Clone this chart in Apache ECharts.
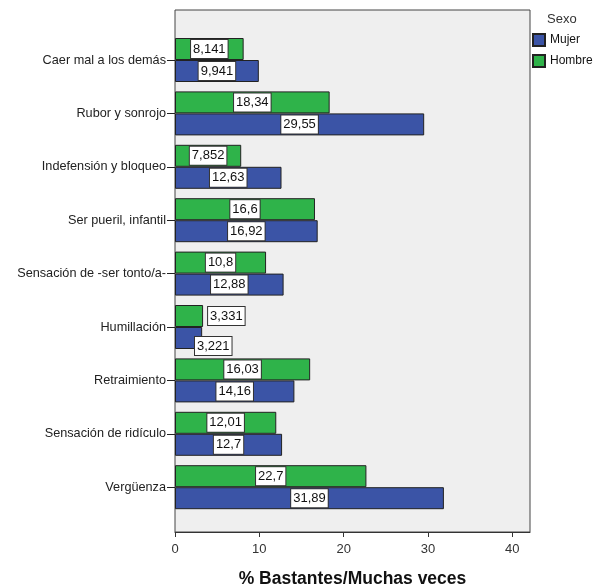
<!DOCTYPE html>
<html><head><meta charset="utf-8">
<script src="https://cdn.jsdelivr.net/npm/echarts@6/dist/echarts.min.js"></script>
<style>html,body{margin:0;padding:0;background:#fff}#c{width:593px;height:586px}</style>
</head><body><div id="c"></div>
<script>
const categories = ['Caer mal a los demás','Rubor y sonrojo','Indefensión y bloqueo','Ser pueril, infantil','Sensación de -ser tonto/a-','Humillación','Retraimiento','Sensación de ridículo','Vergüenza'];
const mujer = [9.941, 29.55, 12.63, 16.92, 12.88, 3.221, 14.16, 12.7, 31.89];
const hombre = [8.141, 18.34, 7.852, 16.6, 10.8, 3.331, 16.03, 12.01, 22.7];
const xTicks = [0, 10, 20, 30, 40];

const FONT = '"Liberation Sans", Arial, sans-serif';
const XMAX = 42.1;
const fmt = p => String(p.value).replace('.', ',');
const baseLabel = {
  show: true, position: 'inside', formatter: fmt,
  backgroundColor: '#fff', borderColor: '#333', borderWidth: 1,
  padding: [3, 2, 2, 2], fontSize: 13, color: '#111', fontFamily: FONT
};
const HUMI = categories.indexOf('Humillación');
function mkData(arr, special) {
  return arr.map((v, i) => i === HUMI ? { value: v, label: special } : v);
}

const chart = echarts.init(document.getElementById('c'));
chart.setOption({
  animation: false,
  backgroundColor: '#fff',
  title: { text: 'Sexo', left: 547, top: 13, padding: 0, textStyle: { fontSize: 13, fontWeight: 'normal', color: '#333', fontFamily: FONT } },
  legend: {
    data: ['Mujer', 'Hombre'], orient: 'vertical', left: 532, top: 33, padding: 0,
    itemWidth: 12, itemHeight: 12, itemGap: 7, icon: 'rect',
    textStyle: { fontSize: 12, color: '#111', fontFamily: FONT }
  },
  grid: [
    { left: 175, top: 10, width: 355, height: 522, show: true, backgroundColor: '#efefef', borderColor: '#444', borderWidth: 1, outerBoundsMode: 'none', containLabel: false },
    { left: 175, top: 33.3, width: 355, height: 480.6, outerBoundsMode: 'none', containLabel: false }
  ],
  xAxis: [
    { gridIndex: 0, type: 'value', min: 0, max: XMAX, interval: 10,
      axisLine: { show: true, lineStyle: { color: '#333' } },
      axisTick: { show: true, length: 5, lineStyle: { color: '#333' } },
      axisLabel: { showMaxLabel: false, fontSize: 13, color: '#333', fontFamily: FONT, margin: 11,
        formatter: v => xTicks.indexOf(v) >= 0 ? String(v) : '' },
      splitLine: { show: false },
      name: '% Bastantes/Muchas veces', nameLocation: 'middle', nameGap: 38,
      nameTextStyle: { fontSize: 17.5, fontWeight: 'bold', color: '#111', fontFamily: FONT } },
    { gridIndex: 1, type: 'value', min: 0, max: XMAX, show: false, splitLine: { show: false } }
  ],
  yAxis: [
    { gridIndex: 0, type: 'value', show: false, splitLine: { show: false } },
    { gridIndex: 1, type: 'category', data: categories, inverse: true,
      axisLine: { show: false },
      axisTick: { show: true, alignWithLabel: true, length: 8, lineStyle: { color: '#222' } },
      axisLabel: { fontSize: 12.7, color: '#222', fontFamily: FONT, margin: 9 } }
  ],
  series: [
    { name: 'Hombre', type: 'bar', xAxisIndex: 1, yAxisIndex: 1, barWidth: 22, barGap: '0%',
      itemStyle: { color: '#2fb34a', borderColor: '#222', borderWidth: 1 },
      label: baseLabel,
      data: mkData(hombre, { position: 'right', distance: 5 }) },
    { name: 'Mujer', type: 'bar', xAxisIndex: 1, yAxisIndex: 1, barWidth: 22, barGap: '0%',
      itemStyle: { color: '#3b54a6', borderColor: '#222', borderWidth: 1 },
      label: baseLabel,
      data: mkData(mujer, { position: [20, 10] }) }
  ]
});
</script></body></html>
